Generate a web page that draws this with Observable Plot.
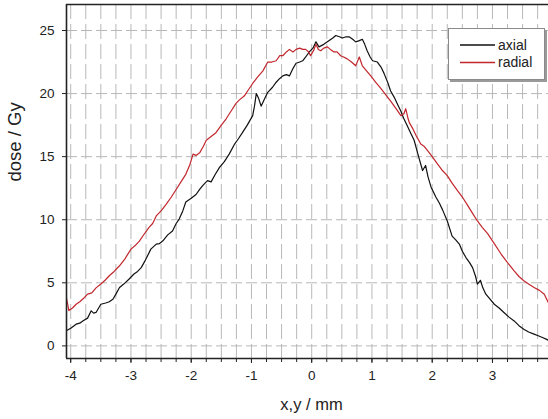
<!DOCTYPE html>
<html>
<head>
<meta charset="utf-8">
<script src="https://cdn.jsdelivr.net/npm/d3@7"></script>
<script src="https://cdn.jsdelivr.net/npm/@observablehq/plot@0.6"></script>
<style>
  html, body { margin: 0; padding: 0; background: #fff; }
  #chart { position: relative; width: 548px; height: 419px; overflow: hidden; }
</style>
</head>
<body>
<div id="chart"></div>
<script>
// ---- data ----
const seriesNames = ["axial", "radial"];
const seriesColors = ["#111111", "#c1272d"];

const axialX = [-4.08,-4.00,-3.91,-3.85,-3.80,-3.72,-3.66,-3.62,-3.58,-3.50,-3.42,-3.36,-3.30,-3.25,-3.19,-3.12,-3.03,-2.95,-2.89,-2.83,-2.76,-2.67,-2.58,-2.53,-2.47,-2.39,-2.31,-2.25,-2.20,-2.14,-2.09,-2.00,-1.92,-1.86,-1.81,-1.73,-1.67,-1.60,-1.53,-1.45,-1.37,-1.28,-1.22,-1.15,-1.07,-0.98,-0.95,-0.92,-0.88,-0.84,-0.78,-0.73,-0.65,-0.59,-0.53,-0.48,-0.42,-0.37,-0.31,-0.26,-0.20,-0.15,-0.10,-0.04,0.02,0.07,0.12,0.16,0.20,0.29,0.35,0.40,0.46,0.51,0.57,0.62,0.68,0.73,0.79,0.84,0.88,0.92,0.97,1.01,1.09,1.15,1.20,1.26,1.31,1.37,1.42,1.48,1.53,1.58,1.62,1.70,1.74,1.78,1.84,1.89,1.93,1.98,2.06,2.12,2.17,2.25,2.33,2.39,2.45,2.50,2.56,2.62,2.67,2.72,2.75,2.80,2.84,2.89,2.96,3.03,3.11,3.19,3.27,3.36,3.44,3.52,3.60,3.69,3.76,3.83,3.93];
const axialY = [1.19,1.4,1.72,1.8,1.98,2.2,2.78,2.6,2.65,3.3,3.4,3.5,3.7,4.1,4.63,4.9,5.3,5.7,5.9,6.2,6.8,7.67,8.07,8.1,8.33,8.8,9.1,9.7,10.05,10.7,11.4,11.7,12.0,12.4,12.7,13.1,13.0,13.6,14.15,14.6,15.2,16.0,16.4,16.9,17.5,18.25,19.0,20.0,19.6,19.0,19.6,20.1,20.5,20.9,21.2,21.4,21.5,21.4,22.0,22.4,22.5,22.6,22.9,23.3,23.6,24.1,23.7,23.8,23.9,24.2,24.4,24.6,24.5,24.4,24.5,24.5,24.3,24.1,24.2,24.3,23.9,23.4,22.9,22.6,22.5,22.1,21.6,20.9,20.2,19.7,19.2,18.6,18.0,17.5,17.1,16.3,15.6,14.9,13.9,14.3,13.4,12.6,11.8,11.3,10.8,9.9,8.7,8.4,8.07,7.5,7.0,6.6,6.2,5.5,4.9,5.2,4.6,4.1,3.7,3.3,3.0,2.65,2.3,1.98,1.6,1.32,1.1,0.93,0.8,0.66,0.45];

const radialX = [-4.08,-4.05,-4.03,-3.97,-3.91,-3.85,-3.78,-3.72,-3.65,-3.58,-3.50,-3.43,-3.36,-3.28,-3.19,-3.10,-3.00,-2.92,-2.86,-2.80,-2.70,-2.64,-2.58,-2.50,-2.42,-2.33,-2.25,-2.17,-2.09,-2.02,-1.97,-1.92,-1.86,-1.80,-1.75,-1.67,-1.59,-1.50,-1.42,-1.34,-1.26,-1.20,-1.12,-1.05,-0.98,-0.90,-0.81,-0.73,-0.66,-0.59,-0.53,-0.48,-0.42,-0.37,-0.31,-0.26,-0.20,-0.15,-0.10,-0.05,-0.02,0.03,0.07,0.11,0.15,0.20,0.26,0.31,0.37,0.42,0.48,0.53,0.59,0.66,0.73,0.79,0.84,0.91,0.98,1.06,1.15,1.23,1.31,1.40,1.48,1.53,1.56,1.60,1.62,1.68,1.73,1.81,1.87,1.92,2.00,2.09,2.17,2.25,2.33,2.42,2.50,2.58,2.67,2.75,2.83,2.92,3.03,3.14,3.25,3.36,3.44,3.52,3.60,3.69,3.78,3.86,3.93];
const radialY = [4.0,3.3,2.8,3.0,3.3,3.5,3.8,4.1,4.2,4.6,4.9,5.2,5.56,5.9,6.35,6.9,7.67,8.0,8.3,8.73,9.4,9.7,10.3,10.7,11.2,11.8,12.4,13.0,13.6,14.4,15.2,15.1,15.3,15.8,16.3,16.6,16.9,17.5,18.0,18.6,19.2,19.5,19.8,20.3,20.8,21.3,21.8,22.5,22.5,22.6,23.0,23.0,23.3,23.5,23.3,23.5,23.6,23.5,23.5,23.3,23.0,23.4,23.9,23.5,23.4,23.6,23.7,23.5,23.3,23.3,23.0,22.9,22.75,22.5,22.2,22.9,22.2,21.8,21.4,20.9,20.4,19.9,19.4,18.8,18.25,18.4,18.8,18.0,17.7,17.2,16.7,16.0,15.8,15.5,15.0,14.4,13.9,13.5,12.9,12.3,11.8,11.2,10.5,9.9,9.4,8.9,8.1,7.3,6.6,5.95,5.5,5.16,4.9,4.63,4.4,4.1,3.4];

const xTickValues = [-4, -3, -2, -1, 0, 1, 2, 3];
const yTickValues = [0, 5, 10, 15, 20, 25];
const xDomain = [-4.07, 3.93];
const yDomain = [-1.0, 27.06];
const xTitle = "x,y / mm";
const yTitle = "dose / Gy";

// ---- build ----
const rows = [];
axialX.forEach((x, i) => rows.push({series: "axial", x, y: axialY[i]}));
radialX.forEach((x, i) => rows.push({series: "radial", x, y: radialY[i]}));
const xMinor = d3.range(-4, 4, 0.25);

const font = "'Liberation Sans', Arial, sans-serif";
const gridColor = "#b8b8b8";

const plot = Plot.plot({
  width: 548,
  height: 419,
  marginLeft: 66,
  marginRight: 0,
  marginTop: 4,
  marginBottom: 61,
  style: {fontFamily: font, fontSize: "13.5px", color: "#222", background: "#fff"},
  x: {domain: xDomain, label: null},
  y: {domain: yDomain, label: null},
  color: {domain: seriesNames, range: seriesColors},
  marks: [
    Plot.gridX(xMinor, {stroke: gridColor, strokeOpacity: 1, strokeDasharray: "15,5"}),
    Plot.gridY(yTickValues, {stroke: gridColor, strokeOpacity: 1, strokeDasharray: "11,4"}),
    Plot.line(rows, {x: "x", y: "y", stroke: "series", z: "series", strokeWidth: 1.2, clip: true}),
    Plot.axisX(xMinor, {tickSize: 4, tickFormat: () => "", stroke: "#222"}),
    Plot.axisX(xTickValues, {tickSize: 5, tickPadding: 7, tickFormat: d => String(d), fontSize: 13.5, label: null}),
    Plot.axisY(yTickValues, {tickSize: 4, tickPadding: 8, fontSize: 13.5, label: null}),
    Plot.ruleX([xDomain[0]], {stroke: "#222", strokeWidth: 1.6}),
    Plot.ruleY([yDomain[0]], {stroke: "#222", strokeWidth: 1.6}),
    Plot.ruleY([yDomain[1]], {stroke: "#222", strokeWidth: 1.6}),
    Plot.text([xTitle], {frameAnchor: "bottom", dy: 51, dx: 4, text: d => d, fontSize: 16.5, fill: "#222"}),
    Plot.text([yTitle], {frameAnchor: "left", dx: -51, rotate: -90, text: d => d, fontSize: 18.5, fill: "#222"})
  ]
});

document.getElementById("chart").appendChild(plot);

// ---- legend (boxed, top right) ----
const svg = d3.select(plot);
const lg = svg.append("g").attr("font-family", font).attr("font-size", 14).attr("fill", "#222")
  .attr("text-anchor", "start");
lg.append("rect").attr("x", 450).attr("y", 30).attr("width", 97).attr("height", 52)
  .attr("fill", "#9a9a9a");
lg.append("rect").attr("x", 448.5).attr("y", 28.5).attr("width", 96).attr("height", 51)
  .attr("fill", "#fff").attr("stroke", "#8a8a8a").attr("stroke-width", 1);
seriesNames.forEach((name, i) => {
  const yy = 45 + i * 17.5;
  lg.append("line").attr("x1", 460).attr("x2", 495).attr("y1", yy).attr("y2", yy)
    .attr("stroke", seriesColors[i]).attr("stroke-width", 1.3);
  lg.append("text").attr("x", 498).attr("y", yy).attr("dy", "0.35em")
    .attr("text-anchor", "start").text(name);
});
</script>
</body>
</html>
